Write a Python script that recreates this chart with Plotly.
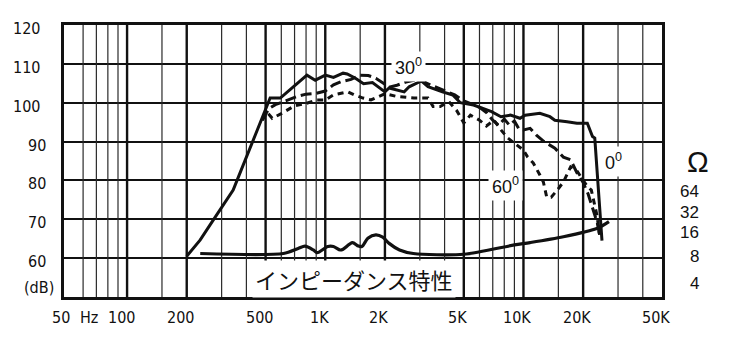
import numpy as np
import plotly.graph_objects as go

# ---------------- data ----------------
# 0 degree on-axis response (solid)
f0 = [200, 234, 272, 343, 372, 418, 515, 527, 593, 808, 890, 1000, 1100, 1230, 1290, 1420,
      1560, 1730, 2000, 2100, 2500, 2650, 3050, 3300, 3900, 4400, 4800, 5600, 6900, 7700,
      8600, 9600, 10200, 12100, 13600, 14400, 16600, 18600, 21000, 22300, 22900, 24500, 24900]
db0 = [60.5, 64.7, 69.8, 77.5, 82, 88.6, 100, 101.2, 101.2, 107.1, 105.8, 107.1, 106.5, 107.6,
       107.4, 106.3, 104.9, 105.2, 102.8, 103.8, 102.8, 104.1, 105.6, 104.1, 102.8, 102, 100,
       99.4, 97.7, 96.4, 96.8, 96, 96.8, 97.3, 96.4, 95.5, 95.1, 94.7, 94.7, 91.3, 90.9, 69, 64.5]

# 30 degree response (long dashes)
f30 = [480, 520, 560, 650, 720, 800, 900, 1000, 1100, 1200, 1350, 1500, 1650, 1800, 1950, 2100,
       2300, 2550, 2800, 3100, 3500, 4000, 4500, 5000, 5500, 6000, 6500, 7000, 7500, 8000, 8500,
       9000, 9500, 10000, 10800, 11700, 12700, 14400, 15900, 17300, 18600, 20000, 21200, 22000,
       23000, 23600, 24200]
db30 = [95.5, 98.5, 99.5, 100.7, 101.6, 102.2, 102.4, 103, 104.6, 105.4, 106, 107.1, 107, 106.3,
        105, 104, 104.5, 105.3, 105.8, 105.5, 104.3, 103, 102, 100.5, 99.5, 98.8, 97.5, 95.5,
        94.2, 95.8, 94.2, 95.3, 93.2, 93, 93.4, 91.5, 90, 88.3, 86, 85.3, 82, 79.5, 76.5, 74,
        70.6, 69, 66]

# 60 degree response (short dashes)
f60 = [480, 510, 540, 600, 700, 800, 900, 1000, 1100, 1300, 1400, 1550, 1700, 2000, 2300, 2800,
       3300, 3500, 3800, 4200, 4600, 5000, 5400, 6000, 6500, 7100, 7700, 8300, 9000, 9600, 10000,
       10500, 11200, 12100, 12600, 13100, 13800, 14800, 15900, 17300, 18600, 20000, 21000,
       22000, 22600, 23500, 24200]
db60 = [95.5, 97.5, 96, 97.2, 99.2, 99.8, 100.7, 100.7, 102, 102.8, 102, 101.2, 100.7, 102.3,
        101.6, 101.2, 101.2, 99, 99, 100.3, 98, 94.8, 96.8, 95.5, 94, 95.5, 93, 91, 89.6, 88.5,
        87.8, 86, 84.5, 81.4, 79.6, 75.7, 75.7, 77.5, 79.6, 83.5, 82.5, 80, 78.5, 77.5, 75, 71, 66]

# impedance curve (plotted on the chart's vertical scale)
fz = [234, 615, 730, 790, 870, 910, 1030, 1100, 1190, 1230, 1370, 1470, 1530, 1640, 1800, 1950,
      2100, 2370, 2780, 5000, 9000, 10800, 15900, 23600, 27000]
dbz = [61.2, 61.2, 62.5, 63.1, 62.1, 61.4, 63, 63, 62.1, 62.3, 64, 63.1, 63, 65.1, 66, 65.4,
       63.8, 62.1, 61.2, 61, 63.4, 64, 65.5, 67.7, 69.4]

# grid / tick definitions
grid_thick = [100, 200, 500, 1000, 2000, 5000, 10000, 20000]
grid_thin = [60, 70, 80, 90, 150, 300, 400, 600, 700, 800, 900, 1500, 3000, 4000,
             6000, 7000, 8000, 9000, 15000, 30000, 40000]
y_grid = [60, 70, 80, 90, 100, 110]
x_tick_vals = [50, 100, 200, 500, 1000, 2000, 5000, 10000, 20000, 50000]
x_tick_text = ["50", "100", "200", "500", "1K", "2K", "5K", "10K", "20K", "50K"]
y_tick_vals = [60, 70, 80, 90, 100, 110, 120]
ohm_text = ["64", "32", "16", "8", "4"]
ohm_ypix = [191, 212, 232, 256, 283]

# ---------------- figure ----------------
NARROW = "Liberation Sans Narrow, Arial Narrow, DejaVu Sans Condensed, sans-serif"
REG = "Liberation Sans, Arial, sans-serif"
INK = "#111111"

fig = go.Figure()


def vlines(freqs):
    xs, ys = [], []
    for f in freqs:
        xs += [f, f, None]
        ys += [50, 120, None]
    return xs, ys


xs, ys = vlines(grid_thin)
fig.add_trace(go.Scatter(x=xs, y=ys, mode="lines", line=dict(color="#2a2a2a", width=1.2),
                         hoverinfo="skip", showlegend=False))
xs, ys = vlines(grid_thick)
fig.add_trace(go.Scatter(x=xs, y=ys, mode="lines", line=dict(color=INK, width=2.4),
                         hoverinfo="skip", showlegend=False))

fig.add_trace(go.Scatter(x=fz, y=dbz, mode="lines", line=dict(color=INK, width=3.2, shape="spline",
                         smoothing=0.8), showlegend=False))
fig.add_trace(go.Scatter(x=f60, y=db60, mode="lines", line=dict(color=INK, width=3, dash="6px,5px"),
                         showlegend=False))
fig.add_trace(go.Scatter(x=f30, y=db30, mode="lines", line=dict(color=INK, width=3, dash="11px,5px"),
                         showlegend=False))
fig.add_trace(go.Scatter(x=f0, y=db0, mode="lines", line=dict(color=INK, width=3),
                         showlegend=False))

ann = []
# bottom labels
for v, t in zip(x_tick_vals, x_tick_text):
    ann.append(dict(x=np.log10(v), xref="x", y=0, yref="paper", text=t, showarrow=False,
                    xanchor="center", yanchor="middle", xshift=-6, yshift=-20.5,
                    font=dict(family=NARROW, size=16, color=INK)))
ann.append(dict(x=(89 - 64) / 598, xref="paper", y=0, yref="paper", text="Hz", showarrow=False,
                xanchor="center", yanchor="middle", yshift=-20.5,
                font=dict(family=NARROW, size=16, color=INK)))
# left labels
for v in y_tick_vals:
    t = str(v)
    cx = 26.7 if len(t) == 3 else 36.7
    ann.append(dict(x=0, xref="paper", y=v, yref="y", text=t, showarrow=False,
                    xanchor="center", yanchor="middle", xshift=cx - 64, yshift=-3.5,
                    font=dict(family=NARROW, size=16, color=INK)))
ann.append(dict(x=0, xref="paper", y=50, yref="y", text="(dB)", showarrow=False,
                xanchor="center", yanchor="middle", xshift=39 - 64, yshift=10,
                font=dict(family=NARROW, size=16, color=INK)))
# right ohm labels
ann.append(dict(x=1, xref="paper", y=(297 - 162) / 272, yref="paper", text="Ω", showarrow=False,
                xanchor="center", yanchor="middle", xshift=36,
                font=dict(family=REG, size=29, color=INK)))
for t, py in zip(ohm_text, ohm_ypix):
    ann.append(dict(x=1, xref="paper", y=(297 - py) / 272, yref="paper", text=t, showarrow=False,
                    xanchor="right", yanchor="middle", xshift=38, borderpad=0,
                    font=dict(family=REG, size=17, color=INK)))
# curve labels
for f, d, t in [(2620, 109.4, "30<sup>0</sup>"), (8100, 78.6, "60<sup>0</sup>"),
                (28600, 85.0, "0<sup>0</sup>")]:
    ann.append(dict(x=np.log10(f), xref="x", y=d, yref="y", text=t, showarrow=False,
                    xanchor="center", yanchor="middle", bgcolor="white", borderpad=3,
                    font=dict(family=REG, size=18, color=INK)))
ann.append(dict(x=np.log10(1400), xref="x", y=54.6, yref="y", text="インピーダンス特性",
                showarrow=False, xanchor="center", yanchor="middle", bgcolor="white", borderpad=2,
                font=dict(family="Noto Sans CJK JP", size=22, color=INK)))

fig.update_layout(
    width=732, height=352,
    margin=dict(l=64, r=70, t=25, b=55),
    paper_bgcolor="white", plot_bgcolor="white",
    showlegend=False,
    annotations=ann,
    xaxis=dict(type="log", range=[np.log10(50) - 3.4 / 198, np.log10(50000)],
               showgrid=False, zeroline=False, showticklabels=False, ticks="",
               showline=True, mirror=True, linewidth=3, linecolor=INK),
    yaxis=dict(range=[50, 120], tickvals=y_grid, showgrid=True, gridcolor=INK, gridwidth=1.8,
               zeroline=False, showticklabels=False, ticks="",
               showline=True, mirror=True, linewidth=3, linecolor=INK),
)

fig.write_html("out.html")
